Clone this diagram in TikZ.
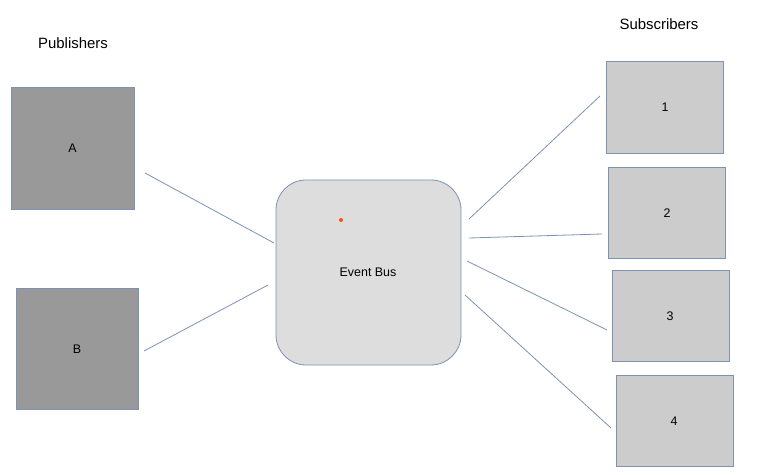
\documentclass[tikz,border=0pt]{standalone}
\usepackage{fontspec}
\setmainfont{Liberation Sans}
\definecolor{edgeblue}{HTML}{7C93B3}
\definecolor{pubfill}{HTML}{999999}
\definecolor{subfill}{HTML}{CCCCCC}
\definecolor{busfill}{HTML}{DDDDDD}
\definecolor{dotred}{HTML}{FF5010}
\begin{document}
\begin{tikzpicture}[x=1bp,y=-1bp,
  pubbox/.style={draw=edgeblue,fill=pubfill,line width=0.8bp},
  subbox/.style={draw=edgeblue,fill=subfill,line width=0.8bp},
  busbox/.style={draw=edgeblue,fill=busfill,line width=0.8bp,rounded corners=30bp},
  label/.style={font=\fontsize{12.5}{14}\selectfont,inner sep=0pt},
  heading/.style={font=\fontsize{15}{18}\selectfont,inner sep=0pt},
  link/.style={draw=edgeblue,line width=0.8bp}]
\useasboundingbox (0,0) rectangle (768,475);
\fill[white] (0,0) rectangle (768,475);
\node[heading] (pubh) at (73,43) {Publishers};
\node[heading] (subh) at (659,24) {Subscribers};
\draw[pubbox] (11,87) rectangle (134,209);
\node[label] (A) at (72.5,148) {A};
\draw[pubbox] (16,288) rectangle (138,409);
\node[label] (B) at (77,349) {B};
\draw[busbox] (276,180) rectangle (461,365);
\node[label] (bus) at (368,272) {Event Bus};
\fill[dotred] (341,220) circle (2bp);
\draw[subbox] (606,61) rectangle (723,153);
\node[label] (s1) at (665,107) {1};
\draw[subbox] (608,167) rectangle (725,258);
\node[label] (s2) at (667,213) {2};
\draw[subbox] (612,270) rectangle (729,361);
\node[label] (s3) at (670,316) {3};
\draw[subbox] (616,375) rectangle (733,466);
\node[label] (s4) at (674,421) {4};
\coordinate (a1) at (145,173); \coordinate (a2) at (274,243);
\coordinate (b1) at (144,351); \coordinate (b2) at (268,285);
\coordinate (o1) at (469,219); \coordinate (t1) at (600,96);
\coordinate (o2) at (469,238); \coordinate (t2) at (602,234);
\coordinate (o3) at (467,261); \coordinate (t3) at (607,330);
\coordinate (o4) at (465,295); \coordinate (t4) at (611,428);
\draw[link] (a1) -- (a2);
\draw[link] (b1) -- (b2);
\draw[link] (o1) -- (t1);
\draw[link] (o2) -- (t2);
\draw[link] (o3) -- (t3);
\draw[link] (o4) -- (t4);
\end{tikzpicture}
\end{document}
